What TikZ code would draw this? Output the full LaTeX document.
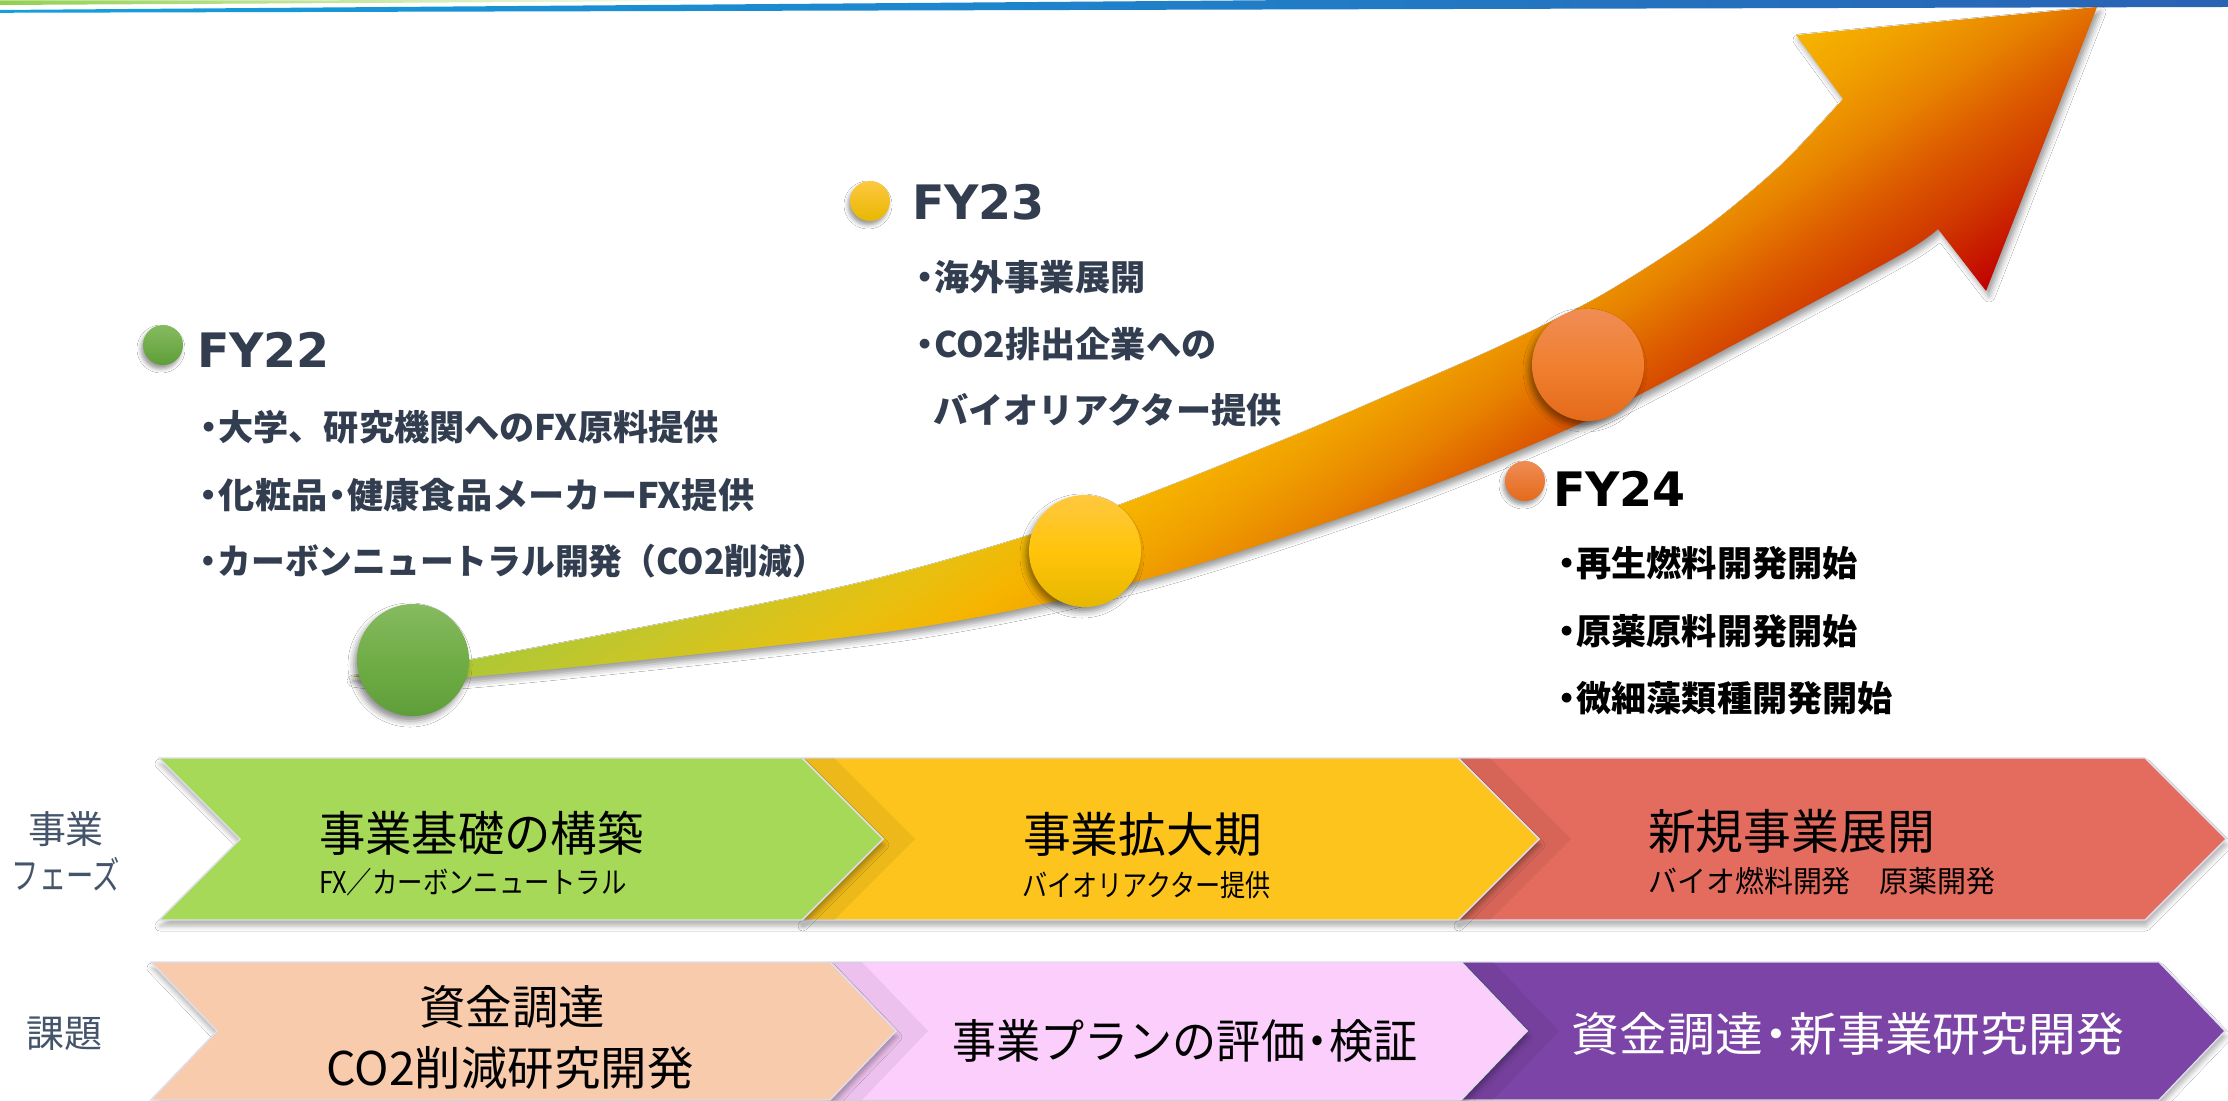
\documentclass[tikz,border=0pt]{standalone}
\usepackage{fontspec}
\usepackage{graphicx}
\setmainfont{Noto Sans CJK JP}
\newfontfamily\jp{Noto Sans CJK JP}
\newfontfamily\fyfont{DejaVu Sans}
\usetikzlibrary{shadows.blur}
\definecolor{g0}{RGB}{160,196,62}
\definecolor{g1}{RGB}{170,200,56}
\definecolor{g2}{RGB}{200,198,40}
\definecolor{g3}{RGB}{232,192,16}
\definecolor{g4}{RGB}{246,180,0}
\definecolor{g5}{RGB}{240,160,0}
\definecolor{g6}{RGB}{232,132,0}
\definecolor{g7}{RGB}{220,90,0}
\definecolor{g8}{RGB}{208,56,0}
\definecolor{g9}{RGB}{192,0,0}
\definecolor{navy}{RGB}{50,62,80}
\definecolor{lblc}{RGB}{68,84,106}
\definecolor{topgreen}{RGB}{146,208,80}
\definecolor{blueL}{RGB}{20,160,222}
\definecolor{blueR}{RGB}{42,98,180}
\definecolor{cgreen}{RGB}{166,217,88}
\definecolor{cyellow}{RGB}{252,196,28}
\definecolor{cred}{RGB}{228,108,94}
\definecolor{cpeach}{RGB}{247,203,172}
\definecolor{cpink}{RGB}{252,206,252}
\definecolor{cpurple}{RGB}{124,68,166}
\definecolor{edgec}{RGB}{222,222,236}
\pgfdeclarehorizontalshading{arrowgrad}{100bp}{color(0bp)=(g0); color(25bp)=(g0); color(31.94bp)=(g1); color(38.89bp)=(g2); color(45.83bp)=(g3); color(50bp)=(g4); color(54.17bp)=(g5); color(58.33bp)=(g6); color(62.5bp)=(g7); color(66.67bp)=(g8); color(72.08bp)=(g9); color(100bp)=(g9)}
\newcommand\hsc[2]{\scalebox{#1}[1]{#2}}
\newcommand\bu{\makebox[0.55em][c]{・}}
\begin{document}
\begin{tikzpicture}[x=0.01cm,y=-0.01cm,
  every node/.style={inner sep=0pt, outer sep=0pt},
  chev/.style={draw=edgec, line width=0.4pt, blur shadow={shadow xshift=0.01cm, shadow yshift=-0.06cm, shadow opacity=30, shadow blur radius=0.05cm}},
  ovl/.style={fill=black, fill opacity=0.06},
  bigdot/.style={circle, minimum size=1.12cm, blur shadow={shadow xshift=-0.03cm, shadow yshift=-0.05cm, shadow opacity=45, shadow blur radius=0.06cm}},
  smalldot/.style={circle, minimum size=0.40cm, blur shadow={shadow xshift=-0.02cm, shadow yshift=-0.04cm, shadow opacity=40, shadow blur radius=0.04cm}},
  fy/.style={font=\fyfont\bfseries\fontsize{13.5}{16}\selectfont, text=navy},
  bl/.style={font=\jp\bfseries\fontsize{10}{12}\selectfont, text=navy},
  ttl/.style={font=\jp\fontsize{13.6}{16}\selectfont, text=black},
  sub/.style={font=\jp\fontsize{8.5}{10}\selectfont, text=black},
  ttltwo/.style={font=\jp\fontsize{13.2}{16}\selectfont, text=black},
  lbl/.style={font=\jp\fontsize{10.8}{13}\selectfont, text=lblc}]
\useasboundingbox (0,0) rectangle (2228,1101);
\fill[white] (0,0) rectangle (2228,1101);

% top decorative lines
\shade[left color=topgreen, right color=white] (0,0.5) -- (720,0) -- (720,1) -- (0,5) -- cycle;
\shade[left color=blueL, right color=blueR] (0,10) -- (1300,0) -- (2228,0) -- (2228,7) -- (0,12.8) -- cycle;

% big arrow: shadow
\path[blur shadow={shadow xshift=0.03cm, shadow yshift=-0.05cm, shadow opacity=40, shadow blur radius=0.06cm}]
  (350,676) -- plot[smooth] coordinates {(350,676) (469,660) (850,585) (1085,517) (1283,440) (1400,390) (1500,346) (1600,296) (1700,232) (1780,166) (1843,99)}
  -- (1796,35) -- (2097,7) -- (1986,291) -- (1938,229)
  -- plot[smooth] coordinates {(1938,229) (1900,255) (1750,336) (1588,420) (1400,497) (1150,578) (900,630) (469,677) (350,676)} -- cycle;
% big arrow: gradient fill
\begin{scope}
\clip (350,676) -- plot[smooth] coordinates {(350,676) (469,660) (850,585) (1085,517) (1283,440) (1400,390) (1500,346) (1600,296) (1700,232) (1780,166) (1843,99)}
  -- (1796,35) -- (2097,7) -- (1986,291) -- (1938,229)
  -- plot[smooth] coordinates {(1938,229) (1900,255) (1750,336) (1588,420) (1400,497) (1150,578) (900,630) (469,677) (350,676)} -- cycle;
\begin{scope}[transform canvas={rotate around={-55:(1263,409)}}]
\shade[shading=arrowgrad, overlay] (903,-541) rectangle (1623,1359);
\end{scope}
\end{scope}

% circles on the arrow
\node[bigdot, top color={rgb,255:red,134;green,187;blue,96}, bottom color={rgb,255:red,94;green,158;blue,56}, middle color={rgb,255:red,112;green,173;blue,71}] (c22) at (413,660) {};
\node[bigdot, top color={rgb,255:red,255;green,200;blue,64}, bottom color={rgb,255:red,230;green,184;blue,0}, middle color={rgb,255:red,255;green,196;blue,10}] (c23) at (1085,551) {};
\node[bigdot, top color={rgb,255:red,240;green,140;blue,85}, bottom color={rgb,255:red,228;green,106;blue,26}, middle color={rgb,255:red,240;green,128;blue,48}] (c24) at (1588,365) {};

% FY headings with dots
\node[smalldot, top color={rgb,255:red,134;green,187;blue,96}, bottom color={rgb,255:red,94;green,158;blue,56}] (d22) at (163,345) {};
\node[smalldot, top color={rgb,255:red,255;green,200;blue,64}, bottom color={rgb,255:red,230;green,184;blue,0}] (d23) at (870,201) {};
\node[smalldot, top color={rgb,255:red,240;green,140;blue,85}, bottom color={rgb,255:red,228;green,106;blue,26}] (d24) at (1525,481) {};

\node[fy, anchor=base west] (fy22) at (197,368) {FY22};
\node[fy, anchor=base west] (fy23) at (912,220) {FY23};
\node[fy, anchor=base west, text=black] (fy24) at (1553,507) {FY24};

\node[bl, anchor=west] (b221) at (199,427) {\bu 大学、研究機関へのFX原料提供};
\node[bl, anchor=west] (b222) at (199,495) {\hsc{1.03}{\bu 化粧品\bu 健康食品メーカーFX提供}};
\node[bl, anchor=west] (b223) at (199,561) {\hsc{0.96}{\bu カーボンニュートラル開発（CO2削減）}};

\node[bl, anchor=west] (b231) at (915,277) {\bu 海外事業展開};
\node[bl, anchor=west] (b232) at (915,344) {\bu CO2排出企業への};
\node[bl, anchor=west] (b233) at (933,410) {バイオリアクター提供};

\node[bl, anchor=west, text=black] (b241) at (1557,563) {\bu 再生燃料開発開始};
\node[bl, anchor=west, text=black] (b242) at (1557,631) {\bu 原薬原料開発開始};
\node[bl, anchor=west, text=black] (b243) at (1557,698) {\bu 微細藻類種開発開始};

% phase chevrons (row 1)
\fill[chev, fill=cred] (1458,758) -- (2145,758) -- (2226,839) -- (2145,920) -- (1458,920) -- (1539,839) -- cycle;
\fill[ovl] (834,758) -- (1490,758) -- (1571,839) -- (1490,920) -- (834,920) -- (915,839) -- cycle;
\fill[chev, fill=cyellow] (802,758) -- (1458,758) -- (1539,839) -- (1458,920) -- (802,920) -- (883,839) -- cycle;
\fill[ovl] (191,758) -- (834,758) -- (915,839) -- (834,920) -- (191,920) -- (272,839) -- cycle;
\fill[chev, fill=cgreen] (159,758) -- (802,758) -- (883,839) -- (802,920) -- (159,920) -- (240,839) -- cycle;

% issue chevrons (row 2)
\fill[chev, fill=cpurple] (1461,962) -- (2159,962) -- (2225,1031) -- (2159,1100) -- (1461,1100) -- (1527,1031) -- cycle;
\fill[ovl] (862,962) -- (1493,962) -- (1559,1031) -- (1493,1100) -- (862,1100) -- (928,1031) -- cycle;
\fill[chev, fill=cpink] (830,962) -- (1461,962) -- (1527,1031) -- (1461,1100) -- (830,1100) -- (896,1031) -- cycle;
\fill[ovl] (183,962) -- (862,962) -- (928,1031) -- (862,1100) -- (183,1100) -- (249,1031) -- cycle;
\fill[chev, fill=cpeach] (151,962) -- (830,962) -- (896,1031) -- (830,1100) -- (151,1100) -- (217,1031) -- cycle;

% chevron texts
\node[ttl, anchor=west] (p1t) at (319,833) {\hsc{0.97}{事業基礎の構築}};
\node[sub, anchor=west] (p1s) at (319,882) {\hsc{0.85}{FX／カーボンニュートラル}};
\node[ttl, anchor=west] (p2t) at (1023,834) {事業拡大期};
\node[sub, anchor=west] (p2s) at (1022,885) {\hsc{0.84}{バイオリアクター提供}};
\node[ttl, anchor=west] (p3t) at (1648,831) {新規事業展開};
\node[sub, anchor=west] (p3s) at (1648,881) {\hsc{0.97}{バイオ燃料開発　原薬開発}};

\node[ttltwo] (k1a) at (512,1007) {資金調達};
\node[ttltwo] (k1b) at (510,1068) {CO2削減研究開発};
\node[ttltwo] (k2) at (1185,1041) {\hsc{0.95}{事業プランの評価\bu 検証}};
\node[ttltwo, text=white] (k3) at (1848,1034) {\hsc{1.03}{資金調達\bu 新事業研究開発}};

% row labels
\node[lbl] (l1a) at (66,829) {事業};
\node[lbl] (l1b) at (66,874) {\hsc{0.72}{フェーズ}};
\node[lbl] (l2) at (64,1034) {課題};
\end{tikzpicture}
\end{document}
